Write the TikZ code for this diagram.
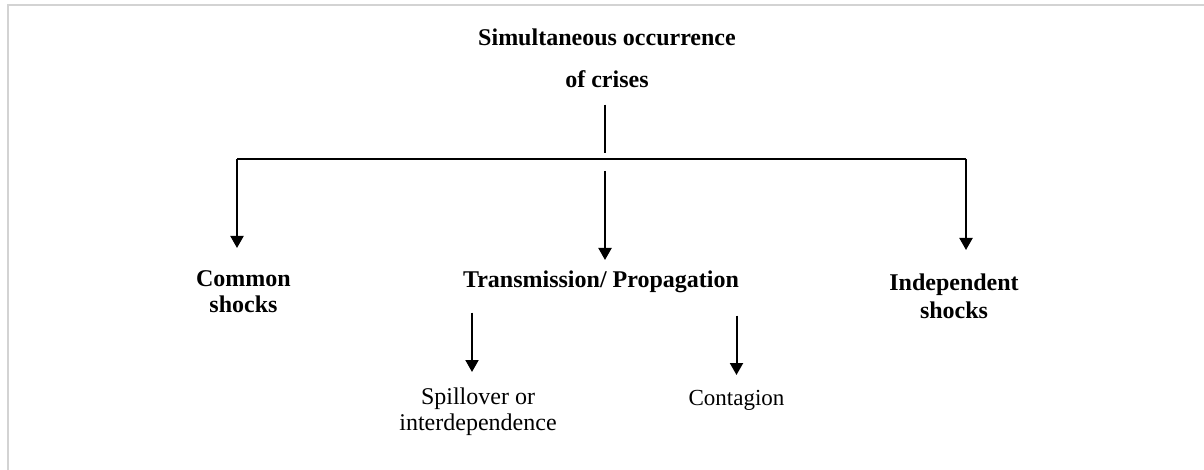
\documentclass[tikz,border=0pt]{standalone}
\usepackage{fontspec}
\setmainfont{Liberation Serif}
\usetikzlibrary{arrows.meta}
\definecolor{framegray}{RGB}{211,211,211}

\begin{document}
\begin{tikzpicture}[x=0.5pt, y=-0.5pt,
  arr/.style={line width=1pt, -{Triangle[length=6pt,width=6.5pt]}},
  bar/.style={line width=0.9pt},
  head/.style={inner sep=0pt, anchor=north, align=center, font=\fontsize{12}{13}\selectfont\bfseries},
  leaf/.style={inner sep=0pt, anchor=north, align=center, font=\fontsize{12}{13}\selectfont}]
  \useasboundingbox (0,0) rectangle (1204,470);
  % 枠線(上と左だけ)
  \draw[framegray, line width=1pt] (8,470) -- (8,5) -- (1204,5);

  % 見出し
  \node[head, font=\fontsize{12}{21}\selectfont\bfseries] (top) at (607,28) {Simultaneous occurrence\\of crises};
  % 三つの分類
  \node[head] (common) at (243.5,270) {Common\\shocks};
  \node[head] (trans) at (601,270) {Transmission/ Propagation};
  \node[head, font=\fontsize{12}{14}\selectfont\bfseries] (indep) at (954,273) {Independent\\shocks};
  % 伝播の二つ
  \node[leaf] (spill) at (478,387) {Spillover or\\interdependence};
  \node[leaf, font=\fontsize{11.5}{13}\selectfont] (contag) at (736.5,390) {Contagion};

  % 横棒と縦棒
  \coordinate (stem) at (605,153);
  \coordinate (barL) at (237,159);
  \coordinate (barM) at (605,159);
  \coordinate (barR) at (966,159);
  \coordinate (spilltop) at ([xshift=-3pt]spill.north);
  \draw[bar, shorten <=8.5pt] (stem |- top.south) -- (stem);
  \draw[bar] (barL) -- (barR);

  % 矢印
  \draw[arr, shorten >=11pt] (barL) -- (barL |- common.north);
  \draw[arr, shorten <=6pt, shorten >=5pt] (barM) -- (barM |- trans.north);
  \draw[arr, shorten >=11.5pt] (barR) -- (barR |- indep.north);
  \draw[arr, shorten <=10pt, shorten >=7.5pt] (spilltop |- trans.south) -- (spilltop);
  \draw[arr, shorten <=11.5pt, shorten >=7.5pt] (contag.north |- trans.south) -- (contag.north);
\end{tikzpicture}
\end{document}
